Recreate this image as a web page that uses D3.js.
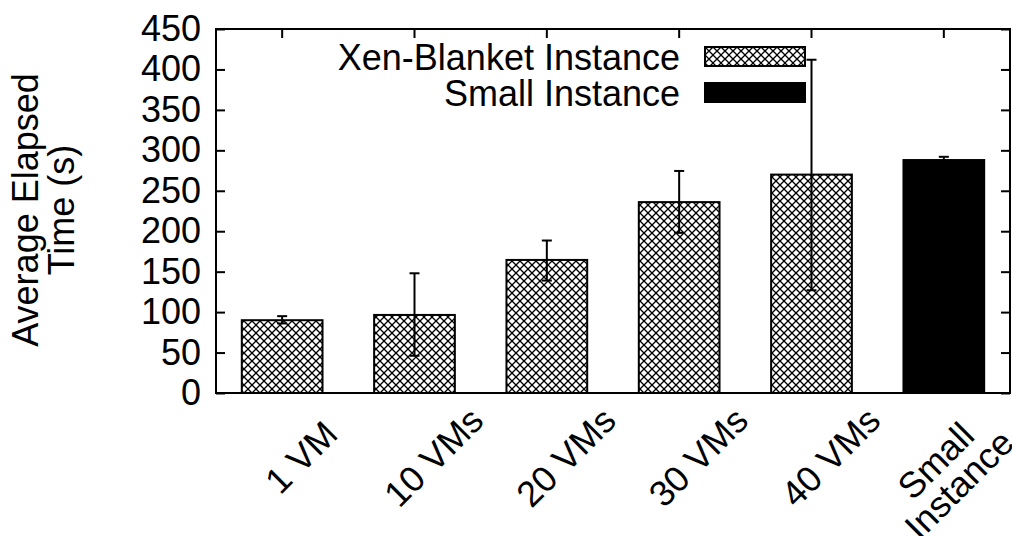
<!DOCTYPE html>
<html>
<head>
<meta charset="utf-8">
<script src="https://cdn.jsdelivr.net/npm/d3@7"></script>
<style>
  body { margin: 0; background: #fff; }
  text { font-family: "Liberation Sans", Arial, Helvetica, sans-serif; fill: #000; }
</style>
</head>
<body>
<div id="chart"></div>
<script>
// Data
const categories = ['1 VM', '10 VMs', '20 VMs', '30 VMs', '40 VMs', 'Small\nInstance']
const series = ['xen', 'xen', 'xen', 'xen', 'xen', 'small']
const means = [90, 96.5, 164.5, 236, 270, 288]
const lows = [86, 46, 139, 198, 127, 284]
const highs = [95, 148, 188.5, 274.5, 412, 292]
const yTicks = [0, 50, 100, 150, 200, 250, 300, 350, 400, 450]
const legendLabels = ['Xen-Blanket Instance', 'Small Instance']
const legendKeys = ['xen', 'small']
const yLabel = ['Average Elapsed', 'Time (s)']

const width = 1012
const height = 536
const margin = { top: 29, right: 2, bottom: 143, left: 216 }
const innerWidth = width - margin.left - margin.right
const innerHeight = height - margin.top - margin.bottom
const fontSize = 36
const tickLen = 9

const svg = d3.select('#chart')
  .append('svg')
  .attr('width', width)
  .attr('height', height)

// Crosshatch pattern
const defs = svg.append('defs')
const pat = defs.append('pattern')
  .attr('id', 'hatch')
  .attr('patternUnits', 'userSpaceOnUse')
  .attr('width', 8)
  .attr('height', 8)
pat.append('rect').attr('width', 8).attr('height', 8).attr('fill', '#fff')
pat.append('path')
  .attr('d', 'M0,0L8,8M8,0L0,8')
  .attr('stroke', '#000')
  .attr('stroke-width', 1.3)

const fillFor = k => k === 'xen' ? 'url(#hatch)' : '#000'

const g = svg.append('g')
  .attr('transform', `translate(${margin.left}, ${margin.top})`)

// Scales
const x = d3.scaleBand()
  .domain(categories)
  .range([0, innerWidth])
  .paddingInner(0.39)
  .paddingOuter(0.195)

const y = d3.scaleLinear()
  .domain([0, 450])
  .range([innerHeight, 0])

// Bars
g.selectAll('.bar')
  .data(categories)
  .enter().append('rect')
  .attr('class', 'bar')
  .attr('x', d => x(d))
  .attr('y', (d, i) => y(means[i]))
  .attr('width', x.bandwidth())
  .attr('height', (d, i) => y(0) - y(means[i]))
  .attr('fill', (d, i) => fillFor(series[i]))
  .attr('stroke', '#000')
  .attr('stroke-width', 2)

// Error bars
const eb = g.selectAll('.err')
  .data(categories)
  .enter().append('g')
  .attr('class', 'err')
  .attr('transform', d => `translate(${x(d) + x.bandwidth() / 2}, 0)`)
eb.append('line')
  .attr('y1', (d, i) => y(lows[i]))
  .attr('y2', (d, i) => y(highs[i]))
  .attr('stroke', '#000').attr('stroke-width', 2)
eb.append('line')
  .attr('x1', -5).attr('x2', 5)
  .attr('y1', (d, i) => y(highs[i])).attr('y2', (d, i) => y(highs[i]))
  .attr('stroke', '#000').attr('stroke-width', 2)
eb.append('line')
  .attr('x1', -5).attr('x2', 5)
  .attr('y1', (d, i) => y(lows[i])).attr('y2', (d, i) => y(lows[i]))
  .attr('stroke', '#000').attr('stroke-width', 2)

// Left axis - labels and inward ticks
const yAxis = g.append('g')
  .call(d3.axisLeft(y).tickValues(yTicks).tickSize(-tickLen).tickPadding(15))
yAxis.select('.domain').remove()
yAxis.selectAll('line').attr('stroke-width', 2)
yAxis.selectAll('text')
  .style('font-size', fontSize + 'px')
  .style('font-family', '"Liberation Sans", Arial, sans-serif')

// Right axis mirror ticks
const yAxisR = g.append('g')
  .attr('transform', `translate(${innerWidth}, 0)`)
  .call(d3.axisRight(y).tickValues(yTicks).tickSize(-tickLen).tickFormat(''))
yAxisR.select('.domain').remove()
yAxisR.selectAll('line').attr('stroke-width', 2)

// Top mirror ticks at bar centres
const xAxisT = g.append('g')
  .call(d3.axisTop(x).tickSize(-tickLen).tickFormat(''))
xAxisT.select('.domain').remove()
xAxisT.selectAll('line').attr('stroke-width', 2)

// Frame
g.append('rect')
  .attr('width', innerWidth)
  .attr('height', innerHeight)
  .attr('fill', 'none')
  .attr('stroke', '#000')
  .attr('stroke-width', 2)

// Bottom axis labels, rotated 45 degrees
const xl = g.append('g')
  .attr('transform', `translate(0, ${innerHeight})`)
xl.selectAll('text')
  .data(categories)
  .enter().append('text')
  .attr('transform', d => `translate(${x(d) + x.bandwidth() / 2 + 19}, 64) rotate(-45)`)
  .attr('text-anchor', 'middle')
  .style('font-size', fontSize + 'px')
  .each(function (d) {
    const lines = d.split('\n')
    const t = d3.select(this)
    lines.forEach((ln, j) => {
      t.append('tspan')
        .attr('x', lines.length > 1 ? -22 : 0)
        .attr('y', (j - (lines.length - 1) / 2) * 0.92 * fontSize)
        .attr('dy', '0.35em')
        .text(ln)
    })
  })

// Y axis title
const yt = svg.append('text')
  .attr('transform', `translate(38, 210) rotate(-90)`)
  .attr('text-anchor', 'middle')
  .style('font-size', fontSize + 'px')
yLabel.forEach((ln, j) => {
  yt.append('tspan')
    .attr('x', 0)
    .attr('y', j * fontSize)
    .text(ln)
})

// Legend
const legend = svg.append('g')
  .attr('transform', 'translate(705, 47)')
const rows = legend.selectAll('g')
  .data(legendKeys)
  .enter().append('g')
  .attr('transform', (d, i) => `translate(0, ${i * 36})`)
rows.append('rect')
  .attr('width', 100)
  .attr('height', 19)
  .attr('fill', d => fillFor(d))
  .attr('stroke', '#000')
  .attr('stroke-width', 2)
rows.append('text')
  .attr('x', -25)
  .attr('y', 10)
  .attr('dy', '0.35em')
  .attr('text-anchor', 'end')
  .style('font-size', fontSize + 'px')
  .text((d, i) => legendLabels[i])
</script>
</body>
</html>
